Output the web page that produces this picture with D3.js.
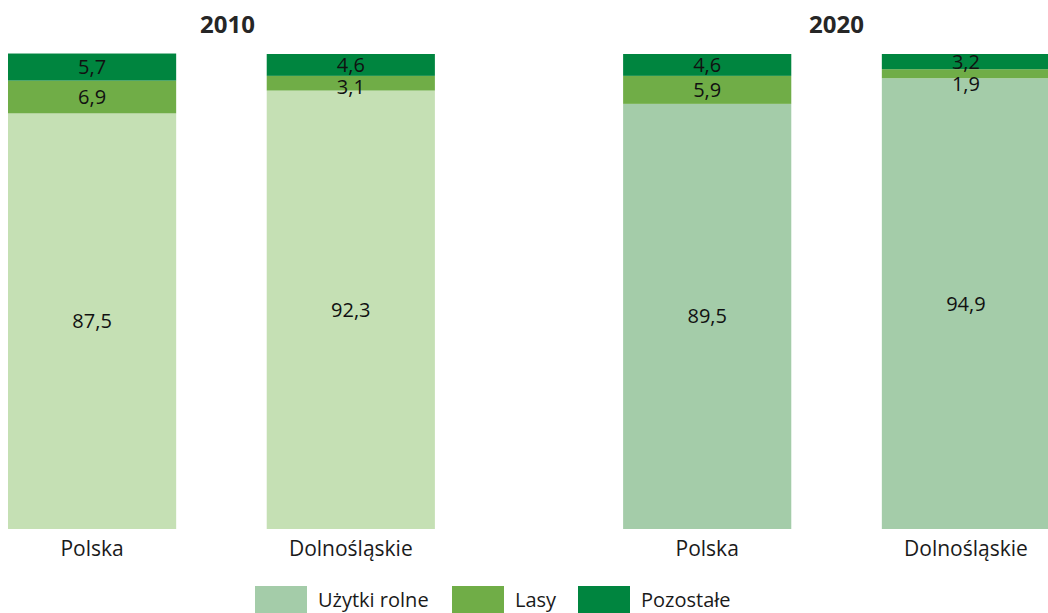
<!DOCTYPE html>
<html>
<head>
<meta charset="utf-8">
<script src="https://cdn.jsdelivr.net/npm/d3@7"></script>
<style>
  body { margin: 0; background: #fff; }
  svg { display: block; font-family: "Open Sans", "Noto Sans", sans-serif; }
</style>
</head>
<body>
<div id="chart"></div>
<script>
const years = ["2010", "2020"];
const regions = ["Polska", "Dolnośląskie"];
const seriesNames = ["Użytki rolne", "Lasy", "Pozostałe"];
// one value per bar: 2010 Polska, 2010 Dolnośląskie, 2020 Polska, 2020 Dolnośląskie
const uzytki = [87.5, 92.3, 89.5, 94.9];
const lasy = [6.9, 3.1, 5.9, 1.9];
const pozostale = [5.7, 4.6, 4.6, 3.2];

const W = 1048, H = 613;
const lightByYear = { "2010": "#c5e0b4", "2020": "#a4cca9" };
const colors = ["#a4cca9", "#70ad47", "#00853f"];

const svg = d3.select("#chart").append("svg")
    .attr("width", W)
    .attr("height", H);

// build rows from arrays
const rows = [];
years.forEach((yr, i) => {
    regions.forEach((reg, j) => {
        const k = i * regions.length + j;
        rows.push({ year: yr, region: reg, vals: [uzytki[k], lasy[k], pozostale[k]] });
    });
});

const xOuter = d3.scaleBand().domain(years).range([8, 1050]).paddingInner(0.306);
const xInner = d3.scaleBand().domain(regions).range([0, xOuter.bandwidth()]).paddingInner(0.35);
const y = d3.scaleLinear().domain([0, 100]).range([529, 54]);

// year titles
svg.selectAll("text.year")
    .data(years)
    .enter().append("text")
    .attr("class", "year")
    .attr("x", d => xOuter(d) + xOuter.bandwidth() / 2 + (d === "2010" ? 6 : 0))
    .attr("y", 33)
    .attr("text-anchor", "middle")
    .attr("font-size", 24)
    .attr("font-weight", "bold")
    .attr("fill", "#262626")
    .text(d => d);

const bars = svg.selectAll("g.bar")
    .data(rows)
    .enter().append("g")
    .attr("class", "bar")
    .attr("transform", d => "translate(" + (xOuter(d.year) + xInner(d.region)) + ",0)");

bars.each(function(d) {
    const g = d3.select(this);
    let base = 0;
    let lastLabel = -Infinity;
    const segs = d.vals.map((v, i) => {
        const s = { i: i, v: v, y0: base, y1: base + v };
        base += v;
        return s;
    });

    g.selectAll("rect")
        .data(segs)
        .enter().append("rect")
        .attr("x", 0)
        .attr("width", xInner.bandwidth())
        .attr("y", s => y(s.y1))
        .attr("height", s => y(s.y0) - y(s.y1))
        .attr("fill", s => s.i === 0 ? lightByYear[d.year] : colors[s.i]);

    // labels from top down, keeping a minimal gap between them
    const labelY = {};
    segs.slice().reverse().forEach(s => {
        let cy = (y(s.y0) + y(s.y1)) / 2;
        if (cy < lastLabel + 22) cy = lastLabel + 22;
        labelY[s.i] = cy;
        lastLabel = cy;
    });

    g.selectAll("text")
        .data(segs)
        .enter().append("text")
        .attr("x", xInner.bandwidth() / 2)
        .attr("y", s => labelY[s.i])
        .attr("dy", "0.35em")
        .attr("text-anchor", "middle")
        .attr("font-size", 20)
        .attr("fill", "#111")
        .text(s => d3.format(".1f")(s.v).replace(".", ","));
});

// category labels under the bars
svg.selectAll("text.cat")
    .data(rows)
    .enter().append("text")
    .attr("class", "cat")
    .attr("x", d => xOuter(d.year) + xInner(d.region) + xInner.bandwidth() / 2)
    .attr("y", 556)
    .attr("text-anchor", "middle")
    .attr("font-size", 21)
    .attr("fill", "#1a1a1a")
    .text(d => d.region);

// legend
const legendX = [255, 452, 578];
const legend = svg.selectAll("g.legend")
    .data(seriesNames)
    .enter().append("g")
    .attr("class", "legend")
    .attr("transform", (d, i) => "translate(" + legendX[i] + ",586)");

legend.append("rect")
    .attr("width", 52)
    .attr("height", 28)
    .attr("fill", (d, i) => colors[i]);

legend.append("text")
    .attr("x", 63)
    .attr("y", 21)
    .attr("font-size", 20)
    .attr("fill", "#1a1a1a")
    .text(d => d);
</script>
</body>
</html>
